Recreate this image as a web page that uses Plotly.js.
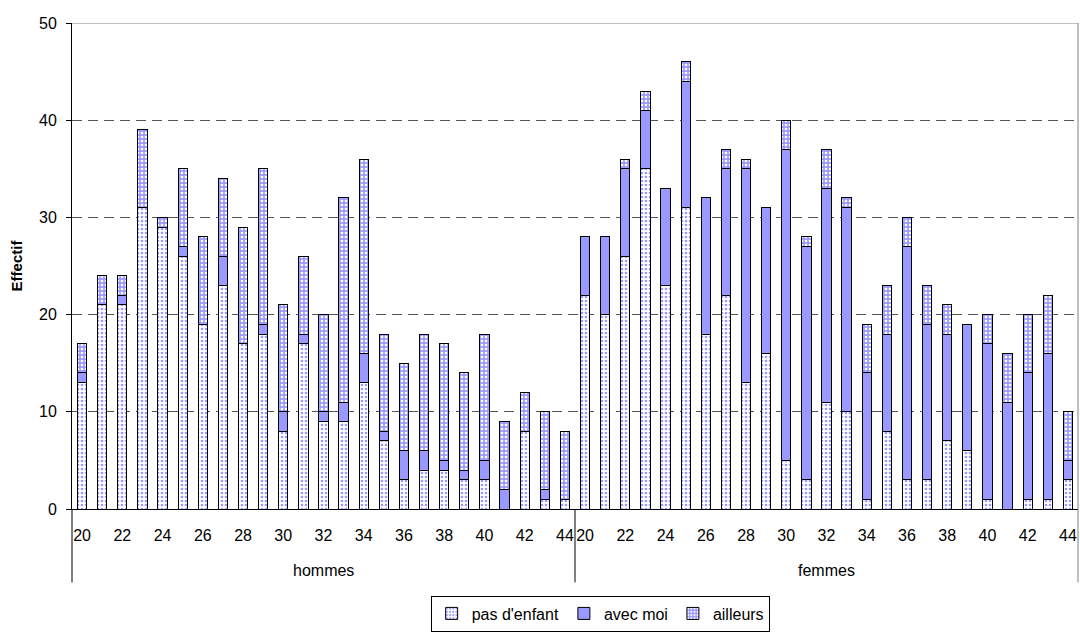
<!DOCTYPE html>
<html>
<head>
<meta charset="utf-8">
<script src="https://cdn.plot.ly/plotly-3.0.1.min.js"></script>
<style>html,body{margin:0;padding:0;background:#fff;}#chart{width:1080px;height:633px;}</style>
</head>
<body>
<div id="chart"></div>
<script>
// categories
const groups = ["hommes", "femmes"];
const ages = [20,21,22,23,24,25,26,27,28,29,30,31,32,33,34,35,36,37,38,39,40,41,42,43,44];
const seriesNames = ["pas d'enfant", "avec moi", "ailleurs"];

// values (hommes)
const hommesPas      = [13,21,21,31,29,26,19,23,17,18,8,17,9,9,13,7,3,4,4,3,3,0,8,1,1];
const hommesAvec     = [1,0,1,0,0,1,0,3,0,1,2,1,1,2,3,1,3,2,1,1,2,2,0,1,0];
const hommesAilleurs = [3,3,2,8,1,8,9,8,12,16,11,8,10,21,20,10,9,12,12,10,13,7,4,8,7];

// values (femmes)
const femmesPas      = [22,20,26,35,23,31,18,22,13,16,5,3,11,10,1,8,3,3,7,6,1,0,1,1,3];
const femmesAvec     = [6,8,9,6,10,13,14,13,22,15,32,24,22,21,13,10,24,16,11,13,16,11,13,15,2];
const femmesAilleurs = [0,0,1,2,0,2,0,2,1,0,3,1,4,1,5,5,3,4,3,0,3,5,6,6,5];

// category positions on the axis: hommes block then femmes block
const n = ages.length;
const xPos = [];
groups.forEach((g, gi) => ages.forEach((a, i) => xPos.push(gi * n + i)));
const tickVals = [], tickText = [];
groups.forEach((g, gi) => ages.forEach((a, i) => { if (i % 2 === 0) { tickVals.push(gi * n + i); tickText.push(String(a)); } }));

const FONT = "Liberation Sans, Arial, sans-serif";
const FS = 16;
const BLUE = "#9999FF";
const outline = {color: "#000", width: 1};

const traces = [
  {
    name: seriesNames[0], type: "bar", x: xPos, y: hommesPas.concat(femmesPas),
    marker: {color: "#ffffff", line: outline,
      pattern: {shape: ".", fgcolor: BLUE, bgcolor: "#ffffff", size: 4, solidity: 0.35, fillmode: "replace"}}
  },
  {
    name: seriesNames[1], type: "bar", x: xPos, y: hommesAvec.concat(femmesAvec),
    marker: {color: BLUE, line: outline}
  },
  {
    name: seriesNames[2], type: "bar", x: xPos, y: hommesAilleurs.concat(femmesAilleurs),
    marker: {color: BLUE, line: outline,
      pattern: {shape: ".", fgcolor: "#ffffff", bgcolor: BLUE, size: 4, solidity: 0.35, fillmode: "replace"}}
  }
];

const sepBottom = -0.151;
const layout = {
  width: 1080, height: 633,
  margin: {l: 72, r: 2, t: 23, b: 121, pad: 0},
  paper_bgcolor: "#fff", plot_bgcolor: "#fff",
  font: {family: FONT, size: FS, color: "#000"},
  barmode: "stack",
  bargap: 0.54,
  showlegend: true,
  legend: {
    orientation: "h", x: 0.525, xanchor: "center", y: -0.178, yanchor: "top",
    bordercolor: "#000", borderwidth: 1, bgcolor: "#fff",
    font: {family: FONT, size: FS, color: "#000"}, itemwidth: 30, traceorder: "normal"
  },
  xaxis: {
    range: [-0.5, 2 * n - 0.5], tickmode: "array", tickvals: tickVals, ticktext: tickText,
    showline: true, linecolor: "#000", linewidth: 1, showgrid: false, zeroline: false,
    ticks: "outside", ticklen: 12, tickcolor: "rgba(0,0,0,0)",
    tickfont: {family: FONT, size: FS, color: "#000"}, fixedrange: true
  },
  yaxis: {
    range: [0, 50], tickmode: "linear", tick0: 0, dtick: 10,
    showline: true, linecolor: "#000", linewidth: 1,
    ticks: "outside", ticklen: 5, tickcolor: "#000", ticklabelstandoff: 6,
    showgrid: true, gridcolor: "#555", gridwidth: 1, griddash: "10px,6px",
    zeroline: false,
    tickfont: {family: FONT, size: FS, color: "#000"},
    title: {text: "<b>Effectif</b>", font: {family: FONT, size: 15, color: "#000"}, standoff: 12}
  },
  shapes: [
    {type: "line", xref: "paper", yref: "y", x0: 0, x1: 1, y0: 50, y1: 50, line: {color: "#808080", width: 1}},
    {type: "line", xref: "paper", yref: "paper", x0: 0, x1: 0, y0: 0, y1: sepBottom, line: {color: "#000", width: 1}},
    {type: "line", xref: "paper", yref: "paper", x0: 0.5, x1: 0.5, y0: 0, y1: sepBottom, line: {color: "#000", width: 1}},
    {type: "line", xref: "paper", yref: "paper", x0: 1, x1: 1, y0: 1, y1: sepBottom, line: {color: "#808080", width: 1}}
  ],
  annotations: [
    {text: groups[0], xref: "paper", yref: "paper", x: 0.25, y: -0.126, xanchor: "center", yanchor: "middle", showarrow: false, font: {family: FONT, size: FS, color: "#000"}},
    {text: groups[1], xref: "paper", yref: "paper", x: 0.75, y: -0.126, xanchor: "center", yanchor: "middle", showarrow: false, font: {family: FONT, size: FS, color: "#000"}}
  ]
};

Plotly.newPlot("chart", traces, layout, {displayModeBar: false, staticPlot: true});
</script>
</body>
</html>
